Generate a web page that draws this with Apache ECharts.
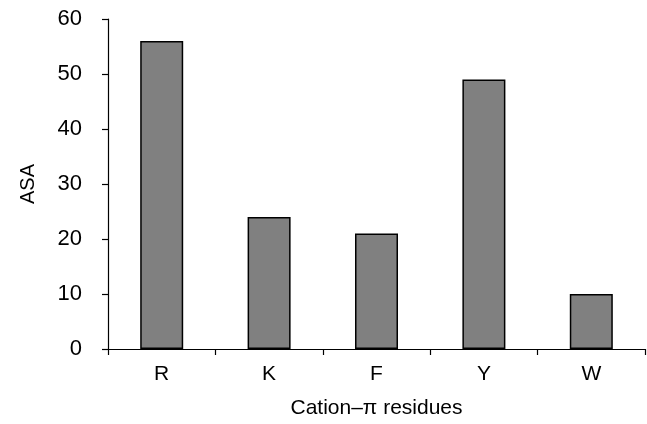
<!DOCTYPE html>
<html>
<head>
<meta charset="utf-8">
<script src="https://cdn.jsdelivr.net/npm/echarts@6/dist/echarts.min.js"></script>
<style>
  html, body { margin: 0; padding: 0; background: #fff; }
  #main { width: 647px; height: 424px; }
</style>
</head>
<body>
<div id="main"></div>
<script>
var categories = ['R', 'K', 'F', 'Y', 'W'];
var asaValues = [56, 24, 21, 49, 10];
var yTicks = { min: 0, max: 60, interval: 10 };

var chart = echarts.init(document.getElementById('main'), null, { renderer: 'canvas' });

var font = 'Liberation Sans, Arial, sans-serif';

chart.setOption({
  animation: false,
  textStyle: { fontFamily: font },
  grid: { left: 108, right: 2, top: 19, bottom: 75, containLabel: false },
  xAxis: {
    type: 'category',
    data: categories,
    name: 'Cation\u2013\u03c0 residues',
    nameLocation: 'middle',
    nameGap: 49,
    nameTextStyle: { fontSize: 21, color: '#000', fontFamily: font },
    axisLine: { lineStyle: { color: '#000', width: 1.2 } },
    axisTick: { show: true, length: 6, inside: false, lineStyle: { color: '#000', width: 1.2 } },
    axisLabel: { fontSize: 21, color: '#000', margin: 15, fontFamily: font },
    splitLine: { show: false }
  },
  yAxis: {
    type: 'value',
    min: yTicks.min,
    max: yTicks.max,
    interval: yTicks.interval,
    name: 'ASA',
    nameLocation: 'middle',
    nameGap: 70,
    nameRotate: 90,
    nameTextStyle: { fontSize: 20, color: '#000', fontFamily: font },
    axisLine: { show: true, lineStyle: { color: '#000', width: 1.2 } },
    axisTick: { show: true, length: 6, inside: false, lineStyle: { color: '#000', width: 1.2 } },
    axisLabel: { fontSize: 22, color: '#000', margin: 26, fontFamily: font },
    splitLine: { show: false }
  },
  series: [{
    type: 'bar',
    data: asaValues,
    barWidth: 43,
    itemStyle: { color: '#808080', borderColor: '#000', borderWidth: 1.5 }
  }]
});
</script>
</body>
</html>
